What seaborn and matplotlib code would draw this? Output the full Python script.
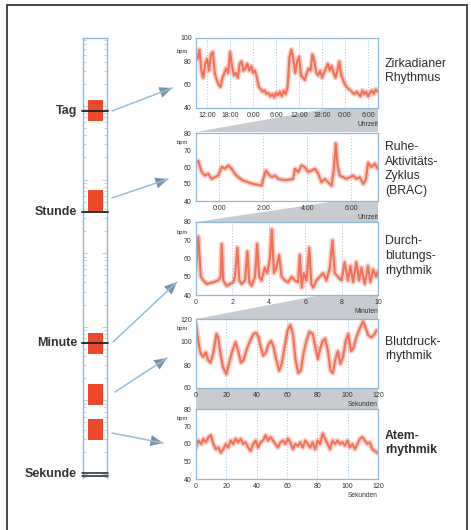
import numpy as np
import pandas as pd
import matplotlib
matplotlib.use("Agg")
import matplotlib.pyplot as plt
import seaborn as sns
from matplotlib.patches import Polygon, FancyArrowPatch
from matplotlib.lines import Line2D
import matplotlib.transforms as mtransforms

sns.set_theme(style="white")
plt.rcParams["font.family"] = ["Liberation Sans", "DejaVu Sans"]

# ---------------- data ----------------
# circadian heart rate (hours since midnight of day 1, bpm)
circ_h = [9.5, 10.0, 10.5, 11.0, 11.5, 12.0, 12.5, 13.0, 13.5, 14.0, 14.5, 15.0, 15.5, 16.0,
          16.5, 17.0, 17.5, 18.0, 18.5, 19.0, 19.5, 20.0, 20.5, 21.0, 21.5, 22.0, 22.5, 23.0,
          23.5, 24.0, 24.5, 25.0, 25.5, 26.0, 26.5, 27.0, 27.5, 28.0, 28.5, 29.0, 29.5, 30.0,
          30.5, 31.0, 31.5, 32.0, 32.5, 33.0, 33.5, 34.0, 34.5, 35.0, 35.5, 36.0, 36.5, 37.0,
          37.5, 38.0, 38.5, 39.0, 39.5, 40.0, 40.5, 41.0, 41.5, 42.0, 42.5, 43.0, 43.5, 44.0,
          44.5, 45.0, 45.5, 46.0, 46.5, 47.0, 47.5, 48.0, 48.5, 49.0, 49.5, 50.0, 50.5, 51.0,
          51.5, 52.0, 52.5, 53.0, 53.5, 54.0, 54.5, 55.0, 55.5, 56.0, 56.5]
circ_bpm = [82, 90, 72, 66, 78, 82, 72, 86, 88, 70, 64, 60, 58, 66,
            70, 74, 70, 88, 76, 68, 70, 66, 78, 80, 72, 74, 78, 72,
            76, 70, 72, 66, 58, 56, 54, 55, 52, 53, 50, 52, 49, 53,
            51, 54, 50, 55, 52, 58, 84, 90, 82, 70, 80, 84, 68, 66,
            64, 70, 74, 72, 86, 80, 70, 68, 72, 66, 70, 74, 78, 72,
            76, 70, 66, 72, 80, 68, 64, 60, 58, 56, 55, 53, 52, 54,
            52, 50, 55, 52, 54, 50, 53, 55, 52, 56, 54]
circ_ticks = [12, 18, 24, 30, 36, 42, 48, 54]
circ_labels = ["12:00", "18:00", "0:00", "6:00", "12:00", "18:00", "0:00", "6:00"]

# rest-activity cycle (hours after midnight, bpm)
brac_h = [-1.06, -0.95, -0.88, -0.80, -0.65, -0.50, -0.35, -0.20, -0.05, 0.11, 0.26, 0.41,
          0.56, 0.71, 0.86, 1.09, 1.32, 1.55, 1.77, 1.92, 2.00, 2.12, 2.23, 2.38, 2.53, 2.68,
          2.91, 3.14, 3.36, 3.44, 3.59, 3.74, 3.89, 4.05, 4.20, 4.35, 4.50, 4.65, 4.80, 4.95,
          5.11, 5.21, 5.30, 5.38, 5.48, 5.64, 5.79, 5.94, 6.09, 6.24, 6.39, 6.55, 6.67, 6.77,
          6.92, 7.08, 7.21]
brac_bpm = [62.6, 63.6, 60, 57, 55, 56, 53, 54, 55, 60, 59, 61,
            59, 56, 54, 52, 51, 50, 49.5, 49, 53, 58, 56, 54, 55, 53,
            52.4, 52.4, 53, 59, 57, 61, 60, 57, 58, 59, 56, 51, 53, 51,
            49, 59, 74, 61, 55, 54, 53, 54, 55, 53, 54, 50, 53, 62.6,
            60, 62, 59]
brac_ticks = [0, 2, 4, 6]
brac_labels = ["0:00", "2:00", "4:00", "6:00"]

# perfusion rhythm (minutes, bpm)
perf_min = [0, 0.13, 0.26, 0.40, 0.59, 0.95, 1.22, 1.35, 1.41, 1.50, 1.68, 1.86, 2.05, 2.14,
            2.27, 2.38, 2.50, 2.69, 2.82, 2.93, 3.05, 3.24, 3.36, 3.47, 3.60, 3.78, 3.91, 4.06,
            4.17, 4.28, 4.42, 4.57, 4.70, 4.88, 5.06, 5.25, 5.43, 5.61, 5.70, 5.81, 5.92, 6.07,
            6.22, 6.34, 6.44, 6.62, 6.80, 6.98, 7.17, 7.35, 7.50, 7.62, 7.81, 7.99, 8.17, 8.35,
            8.48, 8.63, 8.81, 8.96, 9.09, 9.27, 9.45, 9.58, 9.73, 9.91, 10.0]
perf_bpm = [54, 72, 50, 48, 46, 47, 48, 50, 68, 48, 45, 46, 47, 50,
            66, 48, 46, 48, 64, 47, 45, 50, 68, 50, 48, 55, 52, 60,
            76, 52, 55, 62, 50, 48, 47, 50, 48, 47, 62, 44, 52, 48,
            66, 46, 44, 48, 50, 52, 48, 55, 70, 52, 50, 48, 58, 48,
            56, 47, 58, 48, 55, 46, 56, 47, 54, 50, 53]

# blood pressure rhythm (seconds, bpm)
bp_s = [0, 1.5, 3.0, 4.8, 6.5, 8.0, 9.6, 11.3, 13.5, 14.6, 16.1, 17.8, 20.0, 21.7, 23.9,
        26.1, 27.8, 29.6, 31.3, 33.5, 35.7, 37.8, 39.6, 41.3, 42.8, 44.3, 46.1, 47.8, 49.6,
        51.3, 53.0, 54.8, 56.5, 58.3, 60.4, 62.2, 63.9, 65.7, 67.4, 69.1, 70.9, 72.6, 74.8,
        77.0, 78.7, 80.4, 82.0, 83.5, 85.2, 87.0, 88.7, 90.2, 91.7, 93.5, 95.2, 97.0, 98.7,
        100.4, 102.2, 103.9, 105.7, 108.0, 110.2, 111.7, 113.5, 115.7, 117.8, 118.9]
bp_bpm = [116, 101, 90, 87, 91, 84, 82, 90, 107, 104, 90, 78, 72, 81, 92,
          100, 92, 82, 84, 94, 101, 107, 108, 104, 95, 88, 91, 98, 101,
          95, 84, 75, 81, 95, 110, 115, 107, 84, 73, 75, 90, 100, 109,
          107, 95, 85, 95, 101, 103, 92, 75, 73, 84, 92, 81, 87, 101,
          107, 92, 95, 104, 112, 118, 113, 106, 104, 107, 110]

# respiratory rhythm (seconds, bpm)
resp_bpm = [58, 62, 60, 63, 61, 64, 65, 60, 57, 58, 55, 57, 60, 58, 62, 60, 63, 61, 63,
            60, 61, 58, 56, 60, 62, 58, 61, 62, 65, 62, 64, 62, 60, 58, 61, 62, 60, 63,
            61, 57, 60, 59, 61, 58, 62, 60, 58, 61, 57, 62, 60, 66, 63, 60, 57, 62, 60,
            62, 60, 61, 59, 62, 58, 60, 57, 60, 63, 64, 62, 60, 61, 57, 56, 55]
resp_s = list(np.linspace(0, 119.5, len(resp_bpm)))

# period scale: marked units and rhythm bands (seconds)
unit_names = ["Tag", "Stunde", "Minute", "Sekunde"]
unit_secs = [86400, 3600, 60, 1]
band_centers = [86400, 5200, 60, 12, 4]

# ---------------- figure ----------------
W, H = 471, 530
fig = plt.figure(figsize=(W / 100, H / 100), dpi=100)
fig.patch.set_facecolor("white")


def rect(x0, y0, x1, y1):
    return [x0 / W, 1 - y1 / H, (x1 - x0) / W, (y1 - y0) / H]


def P(x, y):
    return (x / W, 1 - y / H)


SPINE = "#8fb8d6"
TRACE = "#f05a3c"
TXT = "#333333"
GREY = "#c8ccd0"

# grey zoom wedges between the panels
wedges = [
    [P(196, 132), P(378, 132), P(378, 108), P(331, 108)],
    [P(196, 222), P(378, 222), P(378, 201), P(337, 201)],
    [P(196, 319), P(378, 319), P(378, 296), P(316, 296)],
    [P(196, 409), P(378, 409), P(378, 388), P(196, 388)],
]
for w in wedges:
    fig.add_artist(Polygon(w, closed=True, transform=fig.transFigure,
                           facecolor=GREY, edgecolor="none", zorder=-5))

panels = [
    dict(box=(196, 38, 378, 108), x=circ_h, y=circ_bpm, xlim=(9.1, 56.6), ylim=(40, 100),
         yt=[40, 60, 80, 100], xt=circ_ticks, xtl=circ_labels, xl="Uhrzeit",
         name="Zirkadianer\nRhythmus", bold=False, bpm=0.8, ty=71),
    dict(box=(196, 133, 378, 201), x=brac_h, y=brac_bpm, xlim=(-1.06, 7.22), ylim=(40, 80),
         yt=[40, 50, 60, 70, 80], xt=brac_ticks, xtl=brac_labels, xl="Uhrzeit",
         name="Ruhe-\nAktivitäts-\nZyklus\n(BRAC)", bold=False, bpm=0.86, ty=169),
    dict(box=(196, 222, 378, 295), x=perf_min, y=perf_bpm, xlim=(0, 10), ylim=(40, 80),
         yt=[40, 50, 60, 70, 80], xt=[0, 2, 4, 6, 8, 10], xtl=None, xl="Minuten",
         name="Durch-\nblutungs-\nrhythmik", bold=False, bpm=0.86, ty=256),
    dict(box=(196, 319, 378, 388), x=bp_s, y=bp_bpm, xlim=(0, 120), ylim=(60, 120),
         yt=[60, 80, 100, 120], xt=[0, 20, 40, 60, 80, 100, 120], xtl=None, xl="Sekunden",
         name="Blutdruck-\nrhythmik", bold=False, bpm=0.86, ty=349),
    dict(box=(196, 409, 378, 479), x=resp_s, y=resp_bpm, xlim=(0, 120), ylim=(40, 80),
         yt=[40, 50, 60, 70, 80], xt=[0, 20, 40, 60, 80, 100, 120], xtl=None, xl="Sekunden",
         name="Atem-\nrhythmik", bold=True, bpm=0.86, ty=443),
]

for p in panels:
    ax = fig.add_axes(rect(*p["box"]))
    df = pd.DataFrame({"t": p["x"], "v": p["y"]})
    sns.lineplot(data=df, x="t", y="v", ax=ax, color=TRACE, lw=3.8, alpha=0.3,
                 estimator=None, sort=False)
    sns.lineplot(data=df, x="t", y="v", ax=ax, color=TRACE, lw=1.5, alpha=0.8,
                 estimator=None, sort=False)
    ax.set_xlim(*p["xlim"])
    ax.set_ylim(*p["ylim"])
    ax.set_yticks(p["yt"])
    ax.set_xticks(p["xt"])
    if p["xtl"] is not None:
        ax.set_xticklabels(p["xtl"])
    ax.set_ylabel("")
    ax.set_xlabel(p["xl"], loc="right", fontsize=4.8, color=TXT, labelpad=1)
    ax.grid(axis="x", ls=(0, (1, 2)), color="#9cc3df", lw=0.7)
    ax.grid(axis="y", visible=False)
    for s in ax.spines.values():
        s.set_color(SPINE)
        s.set_linewidth(0.9)
    ax.tick_params(axis="both", labelsize=5, colors=TXT, length=2, width=0.5, pad=1)
    ax.tick_params(axis="both", color="#666666")
    ax.text(-0.045, p["bpm"], "bpm", transform=ax.transAxes, ha="right", va="center",
            fontsize=4.2, color=TXT)
    fig.text(385 / W, 1 - p["ty"] / H, p["name"],
             ha="left", va="center", fontsize=8.8, color="#2b2b2b",
             fontweight="bold" if p["bold"] else "normal", linespacing=1.3)

# period scale strip
sax = fig.add_axes(rect(83, 38, 107, 478))
sax.set_yscale("log")
sax.set_ylim(0.88, 8.4e5)
sax.set_xlim(0, 1)
sax.set_facecolor("white")
lo = [c / 1.39 for c in band_centers]
hi = [c * 1.39 for c in band_centers]
sax.bar([0.52] * len(band_centers), [h - l for h, l in zip(hi, lo)], bottom=lo,
        width=0.62, color="#ee4a2a", edgecolor="none", zorder=2)
for s in ["left", "right", "top"]:
    sax.spines[s].set_color(SPINE)
    sax.spines[s].set_linewidth(1.0)
sax.spines["bottom"].set_visible(False)
sax.set_xticks([])
sax.tick_params(axis="y", which="both", direction="in", left=True, right=True,
                labelleft=False, color="#a9c9e0", length=2.2, width=0.6)
sax.tick_params(axis="y", which="major", length=3.5)
trans = mtransforms.blended_transform_factory(sax.transAxes, sax.transData)
for name, sec in zip(unit_names, unit_secs):
    if name == "Sekunde":
        for v in (1.03, 0.94):
            sax.add_line(Line2D([-0.04, 1.04], [v, v], transform=trans, color="#222222",
                                lw=1.1, clip_on=False, zorder=3))
    else:
        sax.add_line(Line2D([-0.04, 1.04], [sec, sec], transform=trans, color="#222222",
                            lw=1.3, clip_on=False, zorder=3))
    sax.text(-0.25, sec, name, transform=trans, ha="right", va="center",
             fontsize=9, color="#333333", fontweight="bold")

# arrows from the scale to the panels
arrows = [((112, 111), (172, 88)), ((112, 198), (168, 179)), ((113, 342), (177, 282)),
          ((115, 392), (167, 358)), ((112, 433), (163, 443))]
for a, b in arrows:
    fig.add_artist(Line2D([a[0] / W, b[0] / W], [1 - a[1] / H, 1 - b[1] / H],
                          transform=fig.transFigure, color="#94bdd9", lw=1.1))
    fig.add_artist(FancyArrowPatch(P(*a), P(*b), transform=fig.transFigure,
                                   arrowstyle="-|>,head_length=0.9,head_width=0.4",
                                   mutation_scale=10, color="#7890a4", lw=0,
                                   shrinkA=0, shrinkB=0))

# outer frame
for xs, ys in [((7, 7), (5, 530)), ((7, 467), (5, 5)), ((467, 467), (5, 530))]:
    fig.add_artist(Line2D([x / W for x in xs], [1 - y / H for y in ys],
                          transform=fig.transFigure, color="#3a3a3a", lw=1.3))

fig.savefig("out.png", dpi=100, facecolor="white")
